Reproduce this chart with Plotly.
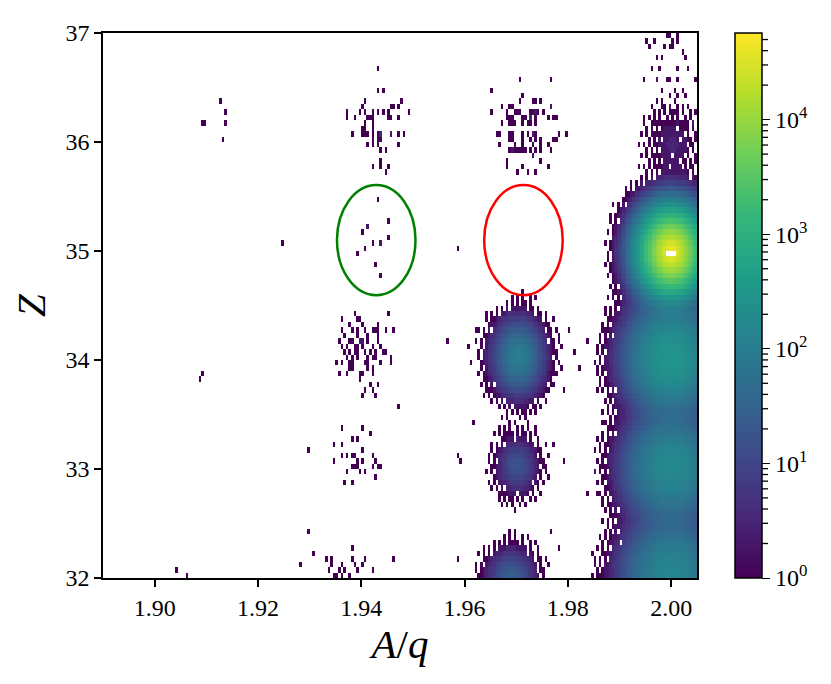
import numpy as np
import plotly.graph_objects as go

# --- dense peaks: centre A/q, centre Z, peak counts,
# half-widths and tail exponent of each blob ---
peak_aq = [2.0000, 2.0000, 2.0000, 2.0000, 2.0002, 1.9704, 1.9702, 1.9690]
peak_z = [34.99, 34.02, 33.02, 32.05, 35.98, 34.03, 33.03, 32.00]
peak_counts = [5.2e4, 300, 180, 150, 3, 110, 18, 30]
peak_width_aq = [0.0019, 0.0056, 0.0058, 0.0060, 0.0035, 0.0027, 0.0025, 0.0028]
peak_width_z = [0.12, 0.33, 0.33, 0.33, 0.22, 0.19, 0.16, 0.16]
peak_shape = [1.3, 2.0, 2.0, 2.0, 1.5, 1.6, 1.6, 1.6]

# --- sparse single hits (A/q, Z) ---
hits_1913 = [(1.9126, 36.38), (1.9137, 36.28), (1.9139, 36.19), (1.9091, 36.19),
             (1.9096, 36.19), (1.9131, 36.03)]

hits_stray = [(1.9246, 35.09), (1.9044, 32.07), (1.9062, 32.02), (1.9093, 33.88),
              (1.9087, 33.81), (1.9585, 35.03), (1.9567, 34.17), (1.9585, 32.17),
              (1.9587, 33.10), (1.9590, 33.05), (1.9615, 33.42), (1.9838, 32.77),
              (1.9856, 32.77), (1.9867, 33.43), (1.9852, 32.97), (1.9846, 32.23),
              (1.9861, 32.04), (1.9774, 33.22), (1.9792, 33.07), (1.9780, 32.28),
              (1.9765, 32.41), (1.9606, 34.12), (1.9612, 33.95), (1.9620, 34.25),
              (1.9800, 34.28), (1.9810, 34.05), (1.9822, 33.90), (1.9836, 34.15),
              (1.9790, 33.72), (1.9640, 33.70)]

hits_1943_z35 = [(1.9434, 35.49), (1.9412, 35.23), (1.9414, 35.23), (1.9451, 35.28),
                 (1.9401, 35.18), (1.9451, 35.13), (1.9424, 35.09), (1.9435, 35.09),
                 (1.9437, 35.09), (1.9406, 35.03), (1.9393, 34.98), (1.9428, 34.88),
                 (1.9437, 34.78)]

hits_1943_z36 = [(1.9430, 36.67), (1.9430, 36.48), (1.9441, 36.48), (1.9406, 36.39),
                 (1.9478, 36.39), (1.9403, 36.34), (1.9459, 36.34), (1.9464, 36.34),
                 (1.9470, 36.34), (1.9406, 36.29), (1.9420, 36.29), (1.9441, 36.29),
                 (1.9494, 36.29), (1.9372, 36.25), (1.9372, 36.20), (1.9397, 36.25),
                 (1.9430, 36.25), (1.9451, 36.25), (1.9451, 36.22), (1.9412, 36.20),
                 (1.9416, 36.20), (1.9455, 36.20), (1.9470, 36.20), (1.9387, 36.20),
                 (1.9406, 36.15), (1.9406, 36.12), (1.9401, 36.12), (1.9422, 36.20),
                 (1.9422, 36.15), (1.9422, 36.12), (1.9422, 36.03), (1.9422, 35.99),
                 (1.9381, 36.08), (1.9401, 36.08), (1.9406, 36.08), (1.9410, 36.08),
                 (1.9420, 36.08), (1.9430, 36.08), (1.9439, 36.08), (1.9439, 36.08),
                 (1.9439, 36.08), (1.9455, 36.08), (1.9459, 36.08), (1.9470, 36.08),
                 (1.9484, 36.08), (1.9412, 35.99), (1.9430, 35.99), (1.9474, 35.99),
                 (1.9439, 35.94), (1.9447, 35.94), (1.9439, 35.84), (1.9422, 35.79),
                 (1.9435, 35.79), (1.9451, 35.79), (1.9449, 35.72), (1.9435, 36.03),
                 (1.9430, 36.03)]

hits_1943_z34 = [(1.9385, 34.44), (1.9453, 34.44), (1.9362, 34.38), (1.9393, 34.38),
                 (1.9397, 34.38), (1.9375, 34.33), (1.9401, 34.33), (1.9432, 34.33),
                 (1.9364, 34.27), (1.9381, 34.27), (1.9391, 34.27), (1.9406, 34.27),
                 (1.9420, 34.27), (1.9426, 34.27), (1.9434, 34.27), (1.9449, 34.27),
                 (1.9464, 34.27), (1.9368, 34.22), (1.9391, 34.22), (1.9410, 34.22),
                 (1.9430, 34.22), (1.9358, 34.18), (1.9375, 34.18), (1.9383, 34.18),
                 (1.9397, 34.18), (1.9397, 34.18), (1.9401, 34.18), (1.9401, 34.18),
                 (1.9412, 34.18), (1.9430, 34.18), (1.9362, 34.13), (1.9372, 34.13),
                 (1.9387, 34.13), (1.9393, 34.13), (1.9403, 34.13), (1.9420, 34.13),
                 (1.9435, 34.13), (1.9368, 34.08), (1.9377, 34.08), (1.9387, 34.08),
                 (1.9393, 34.08), (1.9406, 34.08), (1.9416, 34.08), (1.9426, 34.08),
                 (1.9441, 34.08), (1.9449, 34.08), (1.9372, 34.03), (1.9383, 34.03),
                 (1.9391, 34.03), (1.9410, 34.03), (1.9420, 34.03), (1.9426, 34.03),
                 (1.9459, 34.03), (1.9354, 33.98), (1.9362, 33.98), (1.9375, 33.98),
                 (1.9383, 33.98), (1.9406, 33.98), (1.9412, 33.98), (1.9435, 33.98),
                 (1.9459, 33.98), (1.9375, 33.93), (1.9383, 33.93), (1.9410, 33.93),
                 (1.9420, 33.93), (1.9358, 33.87), (1.9372, 33.87), (1.9397, 33.87),
                 (1.9397, 33.83), (1.9403, 33.87), (1.9422, 33.87), (1.9418, 33.78),
                 (1.9434, 33.78), (1.9406, 33.73), (1.9424, 33.73), (1.9401, 33.68),
                 (1.9428, 33.68), (1.9472, 33.56)]

hits_1943_z33 = [(1.9364, 33.37), (1.9401, 33.37), (1.9416, 33.32), (1.9381, 33.27),
                 (1.9393, 33.27), (1.9348, 33.22), (1.9364, 33.22), (1.9296, 33.17),
                 (1.9403, 33.17), (1.9362, 33.12), (1.9372, 33.12), (1.9381, 33.12),
                 (1.9387, 33.12), (1.9420, 33.12), (1.9348, 33.07), (1.9401, 33.07),
                 (1.9426, 33.07), (1.9391, 33.07), (1.9381, 33.02), (1.9387, 33.02),
                 (1.9391, 33.02), (1.9424, 33.02), (1.9430, 33.02), (1.9437, 33.02),
                 (1.9372, 32.97), (1.9397, 32.97), (1.9405, 32.97), (1.9428, 32.92),
                 (1.9366, 32.87), (1.9381, 32.88)]

hits_1943_z32 = [(1.9296, 32.41), (1.9308, 32.22), (1.9284, 32.11), (1.9331, 32.17),
                 (1.9343, 32.17), (1.9343, 32.12), (1.9381, 32.27), (1.9381, 32.17),
                 (1.9406, 32.17), (1.9464, 32.17), (1.9339, 32.07), (1.9356, 32.07),
                 (1.9364, 32.12), (1.9387, 32.12), (1.9393, 32.07), (1.9401, 32.12),
                 (1.9420, 32.07), (1.9348, 32.02), (1.9364, 32.02), (1.9375, 32.02),
                 (1.9366, 32.07), (1.9352, 32.02)]

hits_1971_z36 = [(1.9705, 36.59), (1.9766, 36.55), (1.9650, 36.48), (1.9710, 36.44),
                 (1.9706, 36.38), (1.9732, 36.38), (1.9739, 36.38), (1.9747, 36.38),
                 (1.9687, 36.34), (1.9691, 36.34), (1.9765, 36.34), (1.9768, 36.34),
                 (1.9654, 36.29), (1.9672, 36.31), (1.9706, 36.29), (1.9726, 36.29),
                 (1.9736, 36.29), (1.9743, 36.29), (1.9751, 36.29), (1.9683, 36.25),
                 (1.9697, 36.25), (1.9703, 36.25), (1.9730, 36.25), (1.9739, 36.25),
                 (1.9761, 36.22), (1.9681, 36.20), (1.9687, 36.20), (1.9693, 36.20),
                 (1.9710, 36.20), (1.9716, 36.20), (1.9726, 36.20), (1.9726, 36.20),
                 (1.9726, 36.20), (1.9736, 36.20), (1.9770, 36.20), (1.9778, 36.20),
                 (1.9672, 36.15), (1.9687, 36.15), (1.9693, 36.15), (1.9697, 36.15),
                 (1.9712, 36.15), (1.9720, 36.15), (1.9726, 36.15), (1.9739, 36.15),
                 (1.9662, 36.09), (1.9666, 36.09), (1.9687, 36.09), (1.9693, 36.09),
                 (1.9710, 36.09), (1.9722, 36.09), (1.9730, 36.09), (1.9730, 36.09),
                 (1.9730, 36.09), (1.9739, 36.09), (1.9784, 36.09), (1.9797, 36.09),
                 (1.9668, 35.99), (1.9687, 36.04), (1.9693, 36.04), (1.9697, 35.99),
                 (1.9710, 35.99), (1.9712, 36.04), (1.9726, 36.04), (1.9732, 35.99),
                 (1.9736, 36.04), (1.9745, 36.04), (1.9749, 35.99), (1.9761, 35.99),
                 (1.9770, 36.04), (1.9778, 36.04), (1.9687, 35.94), (1.9693, 35.94),
                 (1.9701, 35.94), (1.9706, 35.94), (1.9726, 35.94), (1.9736, 35.94),
                 (1.9745, 35.94), (1.9765, 35.90), (1.9691, 35.90), (1.9697, 35.90),
                 (1.9710, 35.90), (1.9716, 35.90), (1.9730, 35.85), (1.9732, 35.85),
                 (1.9749, 35.83), (1.9681, 35.83), (1.9683, 35.79), (1.9710, 35.79),
                 (1.9761, 35.79), (1.9703, 35.72), (1.9722, 35.73), (1.9737, 35.73)]

hits_2000_top = [(1.9991, 36.99), (1.9997, 36.99), (2.0012, 36.99), (1.9954, 36.94),
                 (1.9968, 36.90), (2.0001, 36.94), (2.0012, 36.94), (1.9958, 36.85),
                 (1.9987, 36.85), (1.9995, 36.85), (2.0003, 36.85), (1.9972, 36.78),
                 (2.0020, 36.81), (1.9960, 36.69), (1.9983, 36.75), (2.0026, 36.75),
                 (1.9978, 36.65), (2.0010, 36.65), (2.0030, 36.65), (1.9949, 36.56),
                 (1.9972, 36.57), (1.9974, 36.57), (1.9991, 36.56), (1.9999, 36.56),
                 (2.0014, 36.56), (2.0047, 36.59), (1.9981, 36.49), (2.0006, 36.49),
                 (2.0020, 36.49), (1.9972, 36.39), (1.9981, 36.39), (1.9999, 36.44),
                 (2.0012, 36.44), (2.0028, 36.44), (1.9962, 36.34), (1.9983, 36.30),
                 (1.9997, 36.30), (2.0010, 36.30), (2.0006, 36.26), (1.9945, 36.19),
                 (1.9978, 36.19), (1.9987, 36.19), (1.9997, 36.19), (1.9960, 36.15),
                 (1.9966, 36.15), (2.0014, 36.17), (2.0022, 36.15), (2.0032, 36.15),
                 (2.0041, 36.15)]

# saturated cells at the top of the main peak (drawn blank)
blank_aq = [1.9992, 1.9997, 2.0002, 2.0007]
blank_z = [34.97, 34.97, 34.97, 34.97]

# gates drawn on the plot
ellipse_aq = [1.9429, 1.9714]
ellipse_z = [35.10, 35.10]
ellipse_color = ["green", "red"]

x_ticks = [1.90, 1.92, 1.94, 1.96, 1.98, 2.00]
y_ticks = [32, 33, 34, 35, 36, 37]
count_max = 5.7e4

# binning
aq_edges = 1.89 + 0.0005 * np.arange(231)
z_edges = 32.0 + 0.05 * np.arange(101)
aq_c = 0.5 * (aq_edges[:-1] + aq_edges[1:])
z_c = 0.5 * (z_edges[:-1] + z_edges[1:])
AQ, ZZ = np.meshgrid(aq_c, z_c)

lam = np.zeros_like(AQ)
for a, z, p, wa, wz, s in zip(peak_aq, peak_z, peak_counts, peak_width_aq,
                              peak_width_z, peak_shape):
    r = np.sqrt(((AQ - a) / wa) ** 2 + ((ZZ - z) / wz) ** 2)
    lam += p * np.exp(-r ** s)

# ordered (low-discrepancy) dither so the thin tails of the blobs come out
# speckled rather than as a solid rim
ii, jj = np.indices(lam.shape)
thresh = np.mod(0.5 + 0.7548776662 * ii + 0.5698402910 * jj, 1.0)
occupancy = 1.0 - np.exp(-lam)
counts = np.where((occupancy > thresh) & (lam > 0.2), np.maximum(np.rint(lam), 1), 0)

all_hits = (hits_1913 + hits_stray + hits_1943_z35 + hits_1943_z36 + hits_1943_z34
            + hits_1943_z33 + hits_1943_z32 + hits_1971_z36 + hits_2000_top)
hx = [h[0] for h in all_hits]
hy = [h[1] for h in all_hits]
h2d, _, _ = np.histogram2d(hy, hx, bins=[z_edges, aq_edges])
counts = counts + h2d

logc = np.where(counts >= 1, np.log10(np.maximum(counts, 1)), np.nan)
for a, z in zip(blank_aq, blank_z):
    i = np.searchsorted(z_edges, z) - 1
    j = np.searchsorted(aq_edges, a) - 1
    logc[i, j] = np.nan

FONT = "Liberation Serif"
L, R, T, B = 95, 142, 18, 114
W = 831 - L - R
CB_X = (727 - L) / W          # colourbar left edge, paper units
CB_THICK = 27
cb_right = CB_X + CB_THICK / W
log_max = np.log10(count_max)

fig = go.Figure(go.Heatmap(
    x=aq_c, y=z_c, z=logc,
    colorscale="Viridis", zmin=0, zmax=log_max,
    zsmooth=False, hoverinfo="skip",
    colorbar=dict(
        x=CB_X, xanchor="left", y=0.5, yanchor="middle", xpad=0, ypad=0,
        len=1, lenmode="fraction", thickness=CB_THICK, thicknessmode="pixels",
        outlinecolor="black", outlinewidth=1.5,
        tickvals=[0, 1, 2, 3, 4],
        ticktext=["10<sup>0</sup>", "10<sup>1</sup>", "10<sup>2</sup>",
                  "10<sup>3</sup>", "10<sup>4</sup>"],
        ticks="outside", ticklen=8, tickwidth=1.3, tickcolor="black",
        tickfont=dict(family=FONT, size=24, color="black"),
    ),
))

# minor ticks of the log colourbar
for e in range(5):
    for m in range(2, 10):
        v = m * 10 ** e
        if v > count_max:
            break
        yv = np.log10(v) / log_max
        fig.add_shape(type="line", xref="paper", yref="paper",
                      x0=cb_right, x1=cb_right + 6 / W, y0=yv, y1=yv,
                      line=dict(color="black", width=1.3))

for a, z, c in zip(ellipse_aq, ellipse_z, ellipse_color):
    fig.add_shape(type="circle", xref="x", yref="y",
                  x0=a - 0.0076, x1=a + 0.0076, y0=z - 0.505, y1=z + 0.505,
                  line=dict(color=c, width=2.5))

axis_common = dict(
    showline=True, mirror=True, linecolor="black", linewidth=1.5,
    ticks="outside", ticklen=7, tickwidth=1.5, tickcolor="black",
    showgrid=False, zeroline=False,
    tickfont=dict(family=FONT, size=24, color="black"),
)

fig.update_layout(
    width=831, height=684,
    margin=dict(l=L, r=R, t=T, b=B),
    paper_bgcolor="white", plot_bgcolor="white",
    xaxis=dict(axis_common, range=[1.89, 2.005], tickvals=x_ticks,
               ticktext=[f"{v:.2f}" for v in x_ticks],
               title=dict(text="<i>A</i>/<i>q</i>", standoff=8,
                          font=dict(family=FONT, size=41, color="black"))),
    yaxis=dict(axis_common, range=[32, 37], tickvals=y_ticks,
               ticktext=[str(v) for v in y_ticks],
               title=dict(text="<i>Z</i>", standoff=14,
                          font=dict(family=FONT, size=41, color="black"))),
)

fig.write_html("out.html")
